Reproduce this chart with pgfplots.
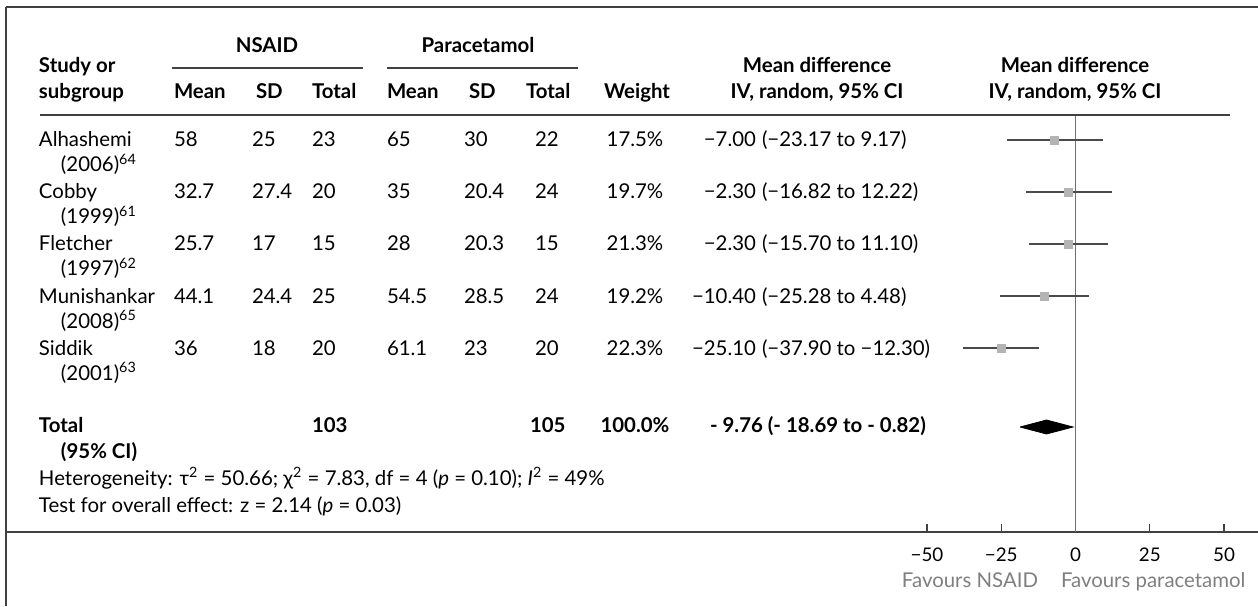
\documentclass[border=0pt]{standalone}
\usepackage{pgfplots}
\pgfplotsset{compat=1.18}
\usepackage{pgfplotstable}
\usepackage{fontspec}
\setmainfont{Lato}
\definecolor{axisgray}{HTML}{404040}
\definecolor{cigray}{HTML}{4A4A4A}
\definecolor{sqgray}{HTML}{B4B4B4}
\definecolor{zerogray}{HTML}{707070}
\definecolor{favgray}{HTML}{7F7F7F}

% study rows: y = 532 - pixel row centre
\pgfplotstableread{
y est err
392 -7.00 16.17
340 -2.30 14.52
288 -2.30 13.40
236 -10.40 14.88
184 -25.10 12.80
}\studies

\newcommand{\fs}{\fontsize{10.2}{12}\selectfont}
\newcommand{\fst}{\fontsize{9.4}{11}\selectfont}

\begin{document}
\begin{tikzpicture}
\begin{axis}[
  scale only axis,
  width=626.15pt, height=299.35pt,
  xmin=-360.2, xmax=61.45,
  ymin=-74, ymax=524.7,
  axis x line=middle, axis y line=left,
  x axis line style={-, draw=axisgray, line width=1pt},
  y axis line style={-, draw=axisgray, line width=1pt},
  xtick={-50,-25,0,25,50},
  xticklabels={−50,−25,0,25,50},
  ytick=\empty,
  xtick align=inside,
  major tick length=4pt,
  x tick style={draw=axisgray, line width=0.7pt},
  xticklabel style={font=\fst, yshift=-4.5pt},
  clip=false,
]
\draw[zerogray, line width=0.75pt] (axis cs:0,417) -- (axis cs:0,0);
\addplot[only marks, mark=square*, mark size=2pt, mark options={draw=sqgray, fill=sqgray},
  error bars/.cd, x dir=both, x explicit, error mark=none,
  error bar style={draw=cigray, line width=0.7pt}]
  table[x=est, y=y, x error=err] {\studies};
\addplot[fill=black, draw=black] coordinates {(-18.69,105) (-9.76,112) (-0.82,105) (-9.76,98) (-18.69,105)};
\end{axis}

\begin{scope}[shift={(current axis.north west)}, xshift=-2.85pt, yshift=3.65pt, x=0.5pt, y=-0.5pt,
  every node/.style={font=\fs, inner sep=0pt, outer sep=0pt}]
% rules
\draw[axisgray, line width=1pt] (5.7,7.3) -- (1258,7.3);
\draw[axisgray, line width=0.75pt] (172,68) -- (363,68);
\draw[axisgray, line width=0.75pt] (387,68) -- (578,68);
\draw[axisgray, line width=0.9pt] (40,115) -- (1230,115);
% header
\node[anchor=base] at (267,53) {\bfseries NSAID};
\node[anchor=base] at (478,53) {\bfseries Paracetamol};
\node[anchor=base west] at (39,73) {\bfseries Study or};
\node[anchor=base west] at (39,99) {\bfseries subgroup};
\node[anchor=base west] at (174,99) {\bfseries Mean};
\node[anchor=base west] at (256,99) {\bfseries SD};
\node[anchor=base west] at (312,99) {\bfseries Total};
\node[anchor=base west] at (387,99) {\bfseries Mean};
\node[anchor=base west] at (469,99) {\bfseries SD};
\node[anchor=base west] at (526,99) {\bfseries Total};
\node[anchor=base] at (637,99) {\bfseries Weight};
\node[anchor=base] at (817,73) {\bfseries Mean difference};
\node[anchor=base] at (817,99) {\bfseries IV, random, 95\% CI};
\node[anchor=base] at (1075,73) {\bfseries Mean difference};
\node[anchor=base] at (1075,99) {\bfseries IV, random, 95\% CI};
% study rows
\foreach \yy/\name/\yr/\sup/\ma/\sa/\ta/\mb/\sb/\tb/\w/\est/\ci in {
  147/Alhashemi/2006/64/58/25/23/65/30/22/17.5/−7.00/(−23.17 to 9.17),
  199/Cobby/1999/61/32.7/27.4/20/35/20.4/24/19.7/−2.30/(−16.82 to 12.22),
  251/Fletcher/1997/62/25.7/17/15/28/20.3/15/21.3/−2.30/(−15.70 to 11.10),
  303/Munishankar/2008/65/44.1/24.4/25/54.5/28.5/24/19.2/−10.40/(−25.28 to 4.48),
  355/Siddik/2001/63/36/18/20/61.1/23/20/22.3/−25.10/(−37.90 to −12.30)}{
  \node[anchor=base west] at (39,\yy) {\name};
  \node[anchor=base west] at (61,\yy+25) {(\yr)\textsuperscript{\sup}};
  \node[anchor=base west] at (174,\yy) {\ma};
  \node[anchor=base west] at (252,\yy) {\sa};
  \node[anchor=base west] at (312,\yy) {\ta};
  \node[anchor=base west] at (387,\yy) {\mb};
  \node[anchor=base west] at (464,\yy) {\sb};
  \node[anchor=base west] at (535,\yy) {\tb};
  \node[anchor=base] at (635,\yy) {\w\%};
  \node[anchor=base east] at (756,\yy) {\est};
  \node[anchor=base west] at (762,\yy) {\ci};
}
% total
\node[anchor=base west] at (39,432) {\bfseries Total};
\node[anchor=base west] at (61,458) {\bfseries (95\% CI)};
\node[anchor=base west] at (312,432) {\bfseries 103};
\node[anchor=base west] at (530,432) {\bfseries 105};
\node[anchor=base] at (635,432) {\bfseries 100.0\%};
\node[anchor=base west] at (710,432) {\bfseries - 9.76 (- 18.69 to - 0.82)};
\node[anchor=base west] at (39,485) {Heterogeneity: τ\textsuperscript{2} = 50.66; χ\textsuperscript{2} = 7.83, df = 4 (\textit{p} = 0.10); \textit{I}\textsuperscript{2} = 49\%};
\node[anchor=base west] at (39,512) {Test for overall effect: z = 2.14 (\textit{p} = 0.03)};
% favours
\node[anchor=base east, text=favgray] at (1038,587) {Favours NSAID};
\node[anchor=base west, text=favgray] at (1061,587) {Favours paracetamol};
\pgfresetboundingbox
\path[use as bounding box] (0,0) rectangle (1258,606);
\end{scope}
\end{tikzpicture}
\end{document}
